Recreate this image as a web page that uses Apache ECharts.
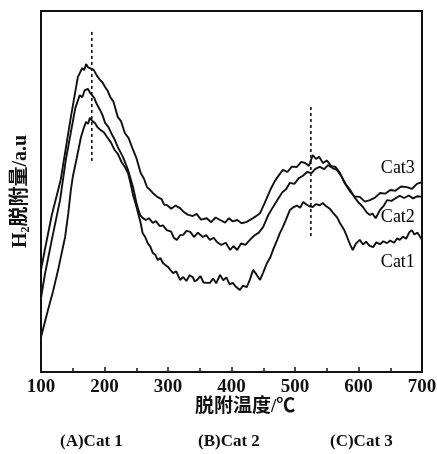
<!DOCTYPE html>
<html><head><meta charset="utf-8">
<script src="https://cdn.jsdelivr.net/npm/echarts@6/dist/echarts.min.js"></script>
<style>html,body{margin:0;padding:0;background:#fff}#c{width:437px;height:454px}</style>
</head><body><div id="c"></div>
<script>
var xTicks = [100, 200, 300, 400, 500, 600, 700];
var cat3 = [[100,28.3],[106,33.8],[117,43.5],[131,53.2],[147,70.6],[158,81.7],[165,84.2],[168,83.6],[171,85.3],[174,84.4],[177,84.8],[183,83.7],[188,82.1],[193,80.9],[197,80.2],[201,78.9],[205,77.9],[209,76.2],[214,74.9],[221,70.6],[226,69.5],[232,66.2],[238,64.8],[245,61.5],[250,59.4],[257,55.1],[262,53.6],[267,51.2],[272,50.4],[276,49.6],[283,48.5],[290,47.9],[294,46.3],[298,46.3],[305,45.2],[312,46.1],[319,45.4],[325,44.3],[331,43.6],[339,43.2],[345,43.8],[352,42.2],[361,42.6],[368,41.5],[375,42.8],[382,42.1],[390,41.4],[396,42.6],[402,41.7],[409,42.1],[416,41.2],[424,41.6],[432,42.4],[438,43.1],[445,44.0],[452,46.7],[461,50.4],[468,52.8],[475,54.6],[481,56.0],[488,55.4],[495,56.9],[503,56.8],[510,58.2],[516,57.9],[522,57.1],[528,60.1],[533,59.0],[538,59.6],[544,57.9],[550,58.6],[557,57.1],[564,56.8],[571,55.1],[578,52.4],[587,49.9],[594,48.6],[602,48.5],[610,47.2],[618,47.6],[626,48.3],[634,49.6],[642,49.4],[650,50.4],[658,50.2],[667,51.4],[676,51.2],[684,50.7],[692,52.1],[700,52.6]];
var cat2 = [[100,20.5],[106,26.9],[117,36.6],[130,47.6],[139,58.7],[147,66.4],[154,73.1],[161,76.7],[165,76.1],[169,78.1],[174,78.4],[177,77.4],[180,77.6],[184,75.9],[187,74.5],[193,72.6],[197,71.1],[201,69.0],[206,67.9],[212,65.7],[216,64.4],[221,62.3],[229,59.6],[237,56.0],[241,53.6],[245,51.2],[251,46.3],[256,43.5],[260,42.7],[265,42.1],[270,42.6],[276,41.3],[281,41.8],[287,40.4],[292,40.6],[298,39.3],[305,38.9],[309,37.2],[314,36.6],[319,37.9],[324,38.0],[329,39.1],[335,38.8],[341,37.4],[347,38.6],[355,37.4],[360,37.9],[366,36.6],[372,37.2],[377,36.0],[384,35.2],[391,35.8],[398,33.8],[403,34.9],[409,33.8],[415,35.6],[422,35.2],[429,36.6],[436,37.8],[443,38.6],[450,40.2],[458,43.5],[465,45.6],[472,47.6],[480,49.8],[486,50.6],[492,52.4],[499,52.1],[506,53.7],[512,54.3],[519,55.4],[526,55.1],[532,56.3],[539,56.8],[546,56.2],[552,57.3],[559,56.5],[566,56.0],[573,54.2],[580,52.0],[587,50.4],[594,48.3],[600,47.0],[607,45.7],[613,44.2],[618,43.5],[622,43.9],[627,42.6],[634,44.9],[640,46.1],[645,47.6],[652,47.4],[659,48.2],[665,48.8],[672,48.2],[679,48.9],[686,48.1],[693,48.7],[700,48.5]];
var cat1 = [[100,9.7],[111,17.2],[119,22.4],[127,28.3],[132,32.5],[138,37.4],[143,44.0],[147,50.4],[150,54.0],[156,59.0],[163,65.1],[167,67.4],[171,69.3],[174,68.7],[177,70.4],[181,69.5],[185,69.0],[189,67.8],[194,67.0],[199,66.4],[204,65.1],[210,63.6],[216,61.5],[221,60.4],[227,58.1],[232,56.8],[237,55.1],[241,52.3],[245,49.0],[249,46.6],[253,44.0],[257,41.2],[260,38.5],[264,37.4],[268,35.7],[272,34.8],[276,33.0],[280,32.5],[284,31.0],[288,31.6],[292,30.2],[296,29.6],[300,29.1],[304,28.2],[308,27.4],[313,27.9],[319,25.5],[324,26.3],[329,25.2],[334,26.8],[339,26.3],[342,25.1],[346,25.5],[351,26.6],[356,24.8],[361,24.7],[366,24.7],[371,25.9],[376,24.6],[382,26.9],[387,25.4],[392,26.2],[397,24.3],[402,24.7],[407,23.6],[413,22.7],[418,23.9],[424,23.5],[429,25.6],[434,28.3],[439,27.1],[445,25.5],[450,27.6],[456,30.2],[461,31.7],[466,34.1],[472,36.6],[476,38.4],[481,40.2],[486,42.3],[492,44.9],[497,45.6],[503,46.1],[508,45.5],[513,47.1],[518,46.4],[523,45.9],[528,45.7],[533,46.5],[539,46.2],[544,46.8],[549,45.9],[555,45.2],[560,44.1],[566,42.9],[571,41.2],[577,39.5],[582,37.4],[587,35.2],[591,33.8],[596,35.6],[602,36.6],[607,35.3],[612,36.1],[617,35.0],[623,34.6],[628,35.9],[634,35.4],[639,36.2],[645,35.7],[650,36.4],[656,35.8],[661,37.0],[665,36.6],[670,37.5],[675,36.9],[680,38.7],[684,39.3],[688,38.1],[693,38.6],[700,36.6]];
var peak1 = [[180, 94.2], [180, 58.2]];
var peak2 = [[525, 73.4], [525, 37.4]];
var catLabels = ['Cat3', 'Cat2', 'Cat1'];
var labelPos = [[662, 56.3], [662, 42.9], [662, 30.5]];
var xTitle = '脱附温度/℃';
var bottomLabels = ['(A)Cat 1', '(B)Cat 2', '(C)Cat 3'];

var serif = "'Liberation Serif','Times New Roman','Noto Sans CJK SC',serif";
var chart = echarts.init(document.getElementById('c'), null, {renderer: 'canvas'});
function lineSeries(d) {
  return {type: 'line', data: d, showSymbol: false, symbol: 'none', smooth: false,
    lineStyle: {color: '#111', width: 1.9}, silent: true, animation: false, z: 3};
}
function dashSeries(d) {
  return {type: 'line', data: d, showSymbol: false, symbol: 'none',
    lineStyle: {color: '#111', width: 1.6, type: [3, 3]}, silent: true, animation: false, z: 2};
}
var labelData = catLabels.map(function (t, i) { return {value: labelPos[i], name: t}; });
var graphics = bottomLabels.map(function (t, i) {
  return {type: 'text', left: [60, 198, 330][i], top: 433,
    style: {text: t, fill: '#111', font: 'bold 17px ' + serif}};
});
graphics.push({type: 'text', left: 195, top: 398,
  style: {text: xTitle, fill: '#111', font: 'bold 19px ' + serif}});
chart.setOption({
  animation: false,
  backgroundColor: '#fff',
  grid: {left: 41, right: 15, top: 11, bottom: 82, containLabel: false, outerBoundsMode: 'none'},
  xAxis: [{
    type: 'value', min: 100, max: 700, interval: 100,
    axisLine: {show: true, lineStyle: {color: '#111', width: 2}},
    axisTick: {show: true, inside: true, length: 5, lineStyle: {color: '#111', width: 1.5}},
    minorTick: {show: true, splitNumber: 2, length: 4, lineStyle: {color: '#111', width: 1.5}},
    axisLabel: {color: '#111', fontFamily: serif, fontSize: 19, fontWeight: 'bold', margin: 6,
      formatter: function (v) { return xTicks.indexOf(v) >= 0 ? String(v) : ''; }},
    splitLine: {show: false}
  }, {
    type: 'value', min: 100, max: 700, position: 'top',
    axisLine: {show: true, onZero: false, lineStyle: {color: '#111', width: 2}},
    axisTick: {show: false}, axisLabel: {show: false}, splitLine: {show: false}
  }],
  yAxis: [{
    type: 'value', min: 0, max: 100,
    axisLine: {show: true, lineStyle: {color: '#111', width: 2}},
    axisTick: {show: false}, axisLabel: {show: false}, splitLine: {show: false},
    name: 'H{s|2}脱附量/a.u', nameLocation: 'middle', nameGap: 9, nameRotate: 90,
    nameTextStyle: {color: '#111', fontFamily: serif, fontSize: 20, fontWeight: 'bold',
      rich: {s: {fontFamily: serif, fontSize: 12, fontWeight: 'bold', color: '#111', padding: [10, 0, 0, 0]}}}
  }, {
    type: 'value', min: 0, max: 100, position: 'right',
    axisLine: {show: true, onZero: false, lineStyle: {color: '#111', width: 2}},
    axisTick: {show: false}, axisLabel: {show: false}, splitLine: {show: false}
  }],
  series: [
    lineSeries(cat3), lineSeries(cat2), lineSeries(cat1),
    dashSeries(peak1), dashSeries(peak2),
    {type: 'scatter', data: labelData, symbolSize: 0, silent: true, animation: false, z: 5,
      label: {show: true, position: 'inside', formatter: '{b}', color: '#000', opacity: 1,
        textBorderWidth: 0, fontFamily: serif, fontSize: 18}}
  ],
  graphic: graphics
});
</script></body></html>
